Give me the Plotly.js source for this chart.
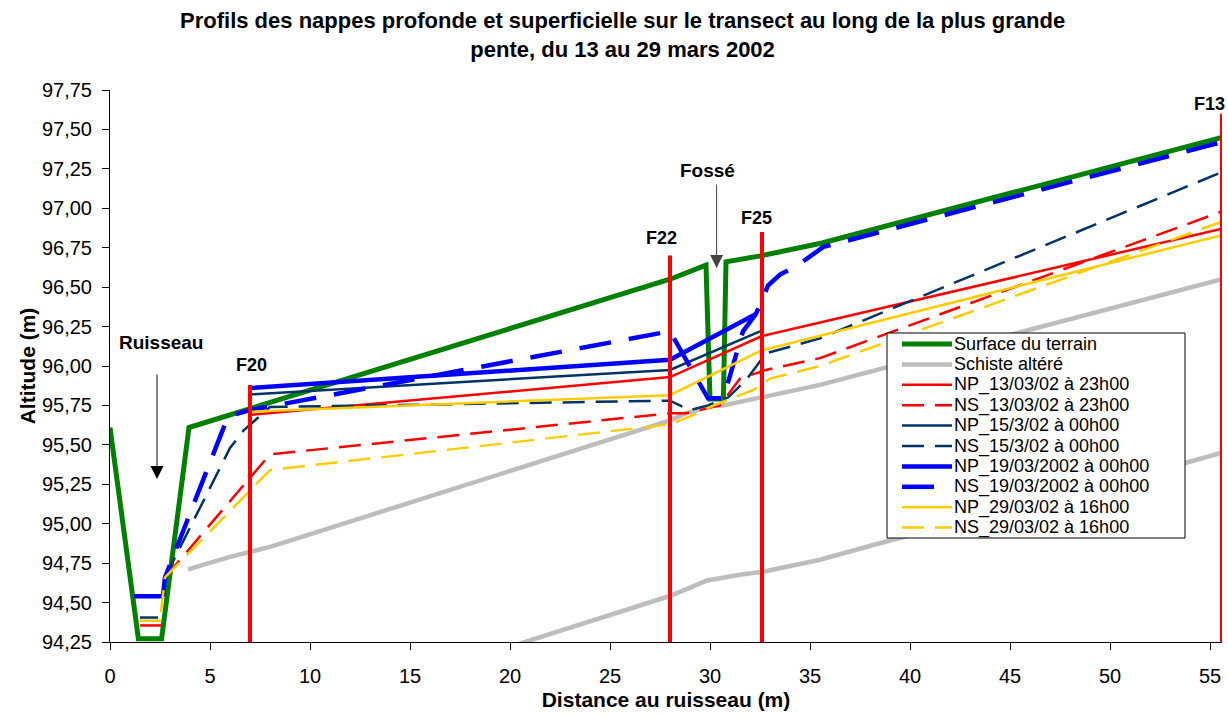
<!DOCTYPE html>
<html>
<head>
<meta charset="utf-8">
<script src="https://cdn.plot.ly/plotly-3.0.1.min.js"></script>
<style>html,body{margin:0;padding:0;background:#fff;}#chart{width:1228px;height:717px;}</style>
</head>
<body>
<div id="chart"></div>
<script>
// ---- Data ----
var surfaceX = [0, 1.42, 2.58, 3.95, 28, 29.8, 30.0, 30.67, 30.8, 32.6, 35.6, 55.6];
var surfaceY = [95.61, 94.27, 94.27, 95.61, 96.55, 96.64, 95.79, 95.79, 96.66, 96.70, 96.78, 97.45];

var schisteX = [3.9, 6.0, 8.05, 28, 28.8, 30.2, 30.65, 32.6, 35.5, 55.6];
var schisteY = [94.71, 94.79, 94.855, 95.655, 95.70, 95.75, 95.75, 95.805, 95.88, 96.55];

var schiste2X = [20, 27.95, 29.1, 29.85, 31.65, 32.65, 35.45, 38.3, 53.75, 55.6];
var schiste2Y = [94.22, 94.54, 94.60, 94.64, 94.68, 94.695, 94.77, 94.87, 95.385, 95.45];

var np13X = [1.5, 2.55, null, 7, 28, 32.6, 55.6];
var np13Y = [94.355, 94.355, null, 95.69, 95.93, 96.19, 96.87];
var ns13X = [2.75, 8.0, 28, 28.8, 30.5, 31.5, 32.8, 35.5, 55.6];
var ns13Y = [94.66, 95.44, 95.70, 95.70, 95.75, 95.92, 95.975, 96.05, 96.98];

var np15X = [1.5, 2.4, null, 7, 28, 32.5];
var np15Y = [94.405, 94.405, null, 95.82, 95.975, 96.22];
var ns15X = [2.75, 6.0, 6.67, 8.0, 28, 29, 29.9, 30.9, 31.8, 32.8, 35.5, 55.6];
var ns15Y = [94.66, 95.48, 95.59, 95.74, 95.78, 95.72, 95.75, 95.80, 95.91, 96.08, 96.175, 97.23];

var np19X = [1.2, 2.65, null, 7, 28, 32.3];
var np19Y = [94.54, 94.54, null, 95.86, 96.04, 96.33];
var ns19X = [2.65, 2.75, 5.9, 7, 28, 29.9, 30.67, 31.65, 32.3, 32.9, 33.5, 34.4, 35.67, 55.6];
var ns19Y = [94.54, 94.66, 95.68, 95.72, 96.22, 95.795, 95.795, 96.22, 96.33, 96.51, 96.58, 96.64, 96.755, 97.42];

var np29X = [1.5, 2.55, null, 7, 28, 32.6, 55.6];
var np29Y = [94.385, 94.385, null, 95.71, 95.815, 96.10, 96.83];
var ns29X = [2.55, 2.75, 8.0, 28, 29, 30.2, 32.2, 33, 35.5, 55.6];
var ns29Y = [94.44, 94.66, 95.34, 95.63, 95.68, 95.75, 95.85, 95.92, 96.0, 96.915];

var wellNames = ['F20', 'F22', 'F25', 'F13'];
var wellX = [7, 28, 32.6, 55.6];
var wellTop = [95.88, 96.70, 96.85, 97.60];
var wellBottom = 94.25;

var seriesNames = ['Surface du terrain', 'Schiste altéré',
  'NP_13/03/02 à 23h00', 'NS_13/03/02 à 23h00',
  'NP_15/3/02 à 00h00', 'NS_15/3/02 à 00h00',
  'NP_19/03/2002 à 00h00', 'NS_19/03/2002 à 00h00',
  'NP_29/03/02 à 16h00', 'NS_29/03/02 à 16h00'];

var yTicks = [94.25, 94.5, 94.75, 95, 95.25, 95.5, 95.75, 96, 96.25, 96.5, 96.75, 97, 97.25, 97.5, 97.75];
var xTicks = [0, 5, 10, 15, 20, 25, 30, 35, 40, 45, 50, 55];

// ---- Styles ----
var FONT = 'Arial, "Liberation Sans", sans-serif';
var RED = '#ff0000', NAVY = '#003366', BLUE = '#0000ff', YEL = '#ffcc00', GREY = '#bdbdbd';
var DASH = '22px,11px', DASHB = '32px,18px';
var styles = [
  {color: '#008000', width: 5, dash: 'solid'},
  {color: GREY, width: 4.5, dash: 'solid'},
  {color: RED, width: 2.5, dash: 'solid'},
  {color: RED, width: 2.5, dash: DASH},
  {color: NAVY, width: 2.5, dash: 'solid'},
  {color: NAVY, width: 2.5, dash: DASH},
  {color: BLUE, width: 4.5, dash: 'solid'},
  {color: BLUE, width: 4.5, dash: DASHB},
  {color: YEL, width: 2.5, dash: 'solid'},
  {color: YEL, width: 2.5, dash: DASH}
];

function tr(x, y, name, st) {
  return {x: x, y: y, type: 'scatter', mode: 'lines', name: name,
    line: {color: st.color, width: st.width, dash: st.dash},
    connectgaps: false, hoverinfo: 'skip', showlegend: false};
}

var traces = [
  tr(surfaceX, surfaceY, seriesNames[0], styles[0]),
  tr(schisteX, schisteY, seriesNames[1], styles[1]),
  tr(schiste2X, schiste2Y, seriesNames[1] + ' (2)', styles[1]),
  tr(np13X, np13Y, seriesNames[2], styles[2]),
  tr(ns13X, ns13Y, seriesNames[3], styles[3]),
  tr(np15X, np15Y, seriesNames[4], styles[4]),
  tr(ns15X, ns15Y, seriesNames[5], styles[5]),
  tr(np19X, np19Y, seriesNames[6], styles[6]),
  tr(ns19X, ns19Y, seriesNames[7], styles[7]),
  tr(np29X, np29Y, seriesNames[8], styles[8]),
  tr(ns29X, ns29Y, seriesNames[9], styles[9])
];

// well (piezometer) vertical lines
var wx = [], wy = [];
for (var i = 0; i < wellX.length; i++) {
  wx.push(wellX[i], wellX[i], null);
  wy.push(wellBottom, wellTop[i], null);
}
traces.push(tr(wx, wy, 'Piézomètres', {color: RED, width: 4, dash: 'solid'}));

// ---- Annotations ----
var bold = {family: FONT, size: 18, color: '#000', weight: 'bold'};
var boldL = {family: FONT, size: 19, color: '#000', weight: 'bold'};
var wellShiftX = [1, -9, -6, -13];
var wellShiftY = [20, 18, 14, 10];
var annotations = [];
for (var j = 0; j < wellNames.length; j++) {
  annotations.push({x: wellX[j], y: wellTop[j], xref: 'x', yref: 'y', text: wellNames[j],
    showarrow: false, xanchor: 'center', yanchor: 'middle',
    xshift: wellShiftX[j], yshift: wellShiftY[j], font: bold});
}
annotations.push({x: 2.55, y: 96.146, xref: 'x', yref: 'y', text: 'Ruisseau', showarrow: false,
  xanchor: 'center', yanchor: 'middle', font: boldL});
annotations.push({x: 2.35, y: 95.283, xref: 'x', yref: 'y', text: '', showarrow: true,
  ax: 0, ay: -106, axref: 'pixel', ayref: 'pixel', arrowhead: 2, arrowsize: 2.6, arrowwidth: 1, arrowcolor: '#000'});
annotations.push({x: 29.85, y: 97.238, xref: 'x', yref: 'y', text: 'Fossé', showarrow: false,
  xanchor: 'center', yanchor: 'middle', font: boldL});
annotations.push({x: 30.33, y: 96.621, xref: 'x', yref: 'y', text: '', showarrow: true,
  ax: 0, ay: -85, axref: 'pixel', ayref: 'pixel', arrowhead: 2, arrowsize: 2.6, arrowwidth: 1, arrowcolor: '#444'});

// ---- Legend box (drawn as shapes + texts, Excel-like compact spacing) ----
var PL = 110, PT = 90, PW = 1112, PH = 552;
function px2x(px) { return (px - PL) / PW; }
function py2y(py) { return 1 - (py - PT) / PH; }
var legLeft = 887, legRight = 1185, legTop = 333, legBottom = 538;
var rowFirst = 344, rowStep = 20.4, sampleL = 902, sampleR = 952, textL = 953;
var shapes = [{type: 'rect', xref: 'paper', yref: 'paper', layer: 'above',
  x0: px2x(legLeft), x1: px2x(legRight), y0: py2y(legBottom), y1: py2y(legTop),
  fillcolor: '#fff', line: {color: '#000', width: 1}}];
for (var k = 0; k < seriesNames.length; k++) {
  var yy = py2y(rowFirst + k * rowStep);
  shapes.push({type: 'line', xref: 'paper', yref: 'paper', layer: 'above',
    x0: px2x(sampleL), x1: px2x(sampleR), y0: yy, y1: yy,
    line: {color: styles[k].color, width: styles[k].width, dash: styles[k].dash}});
  annotations.push({xref: 'paper', yref: 'paper', x: px2x(textL), y: yy, text: seriesNames[k],
    showarrow: false, xanchor: 'left', yanchor: 'middle', borderpad: 0,
    font: {family: FONT, size: 18, color: '#000'}});
}

var layout = {
  width: 1228, height: 717,
  margin: {l: 110, r: 6, t: 90, b: 75, pad: 0},
  paper_bgcolor: '#fff', plot_bgcolor: '#fff',
  separators: ', ',
  font: {family: FONT, color: '#000'},
  title: {text: 'Profils des nappes profonde et superficielle sur le transect au long de la plus grande<br>pente, du 13 au 29 mars 2002',
    font: {family: FONT, size: 22, weight: 'bold', color: '#000'},
    x: 0.507, xanchor: 'center', xref: 'container', y: 0.961, yanchor: 'top', yref: 'container'},
  xaxis: {range: [0, 55.6], tickmode: 'array', tickvals: xTicks, ticktext: xTicks.map(String),
    ticks: 'outside', ticklen: 7, tickcolor: '#000', tickwidth: 1, ticklabelstandoff: 9,
    showline: true, linecolor: '#000', linewidth: 1, showgrid: false, zeroline: false,
    tickfont: {family: FONT, size: 20, color: '#000'},
    title: {text: 'Distance au ruisseau (m)', font: {family: FONT, size: 21, weight: 'bold', color: '#000'}, standoff: 6}},
  yaxis: {range: [94.25, 97.75], tickmode: 'array', tickvals: yTicks,
    ticktext: yTicks.map(function (v) { return v.toFixed(2).replace('.', ','); }),
    ticks: 'outside', ticklen: 7, tickcolor: '#000', tickwidth: 1, ticklabelstandoff: 6,
    showline: true, linecolor: '#000', linewidth: 1, showgrid: false, zeroline: false,
    tickfont: {family: FONT, size: 20, color: '#000'},
    title: {text: 'Altitude (m)', font: {family: FONT, size: 21, weight: 'bold', color: '#000'}, standoff: 0}},
  showlegend: false,
  hovermode: false,
  shapes: shapes,
  annotations: annotations
};

Plotly.newPlot('chart', traces, layout, {staticPlot: true, displayModeBar: false});
</script>
</body>
</html>
